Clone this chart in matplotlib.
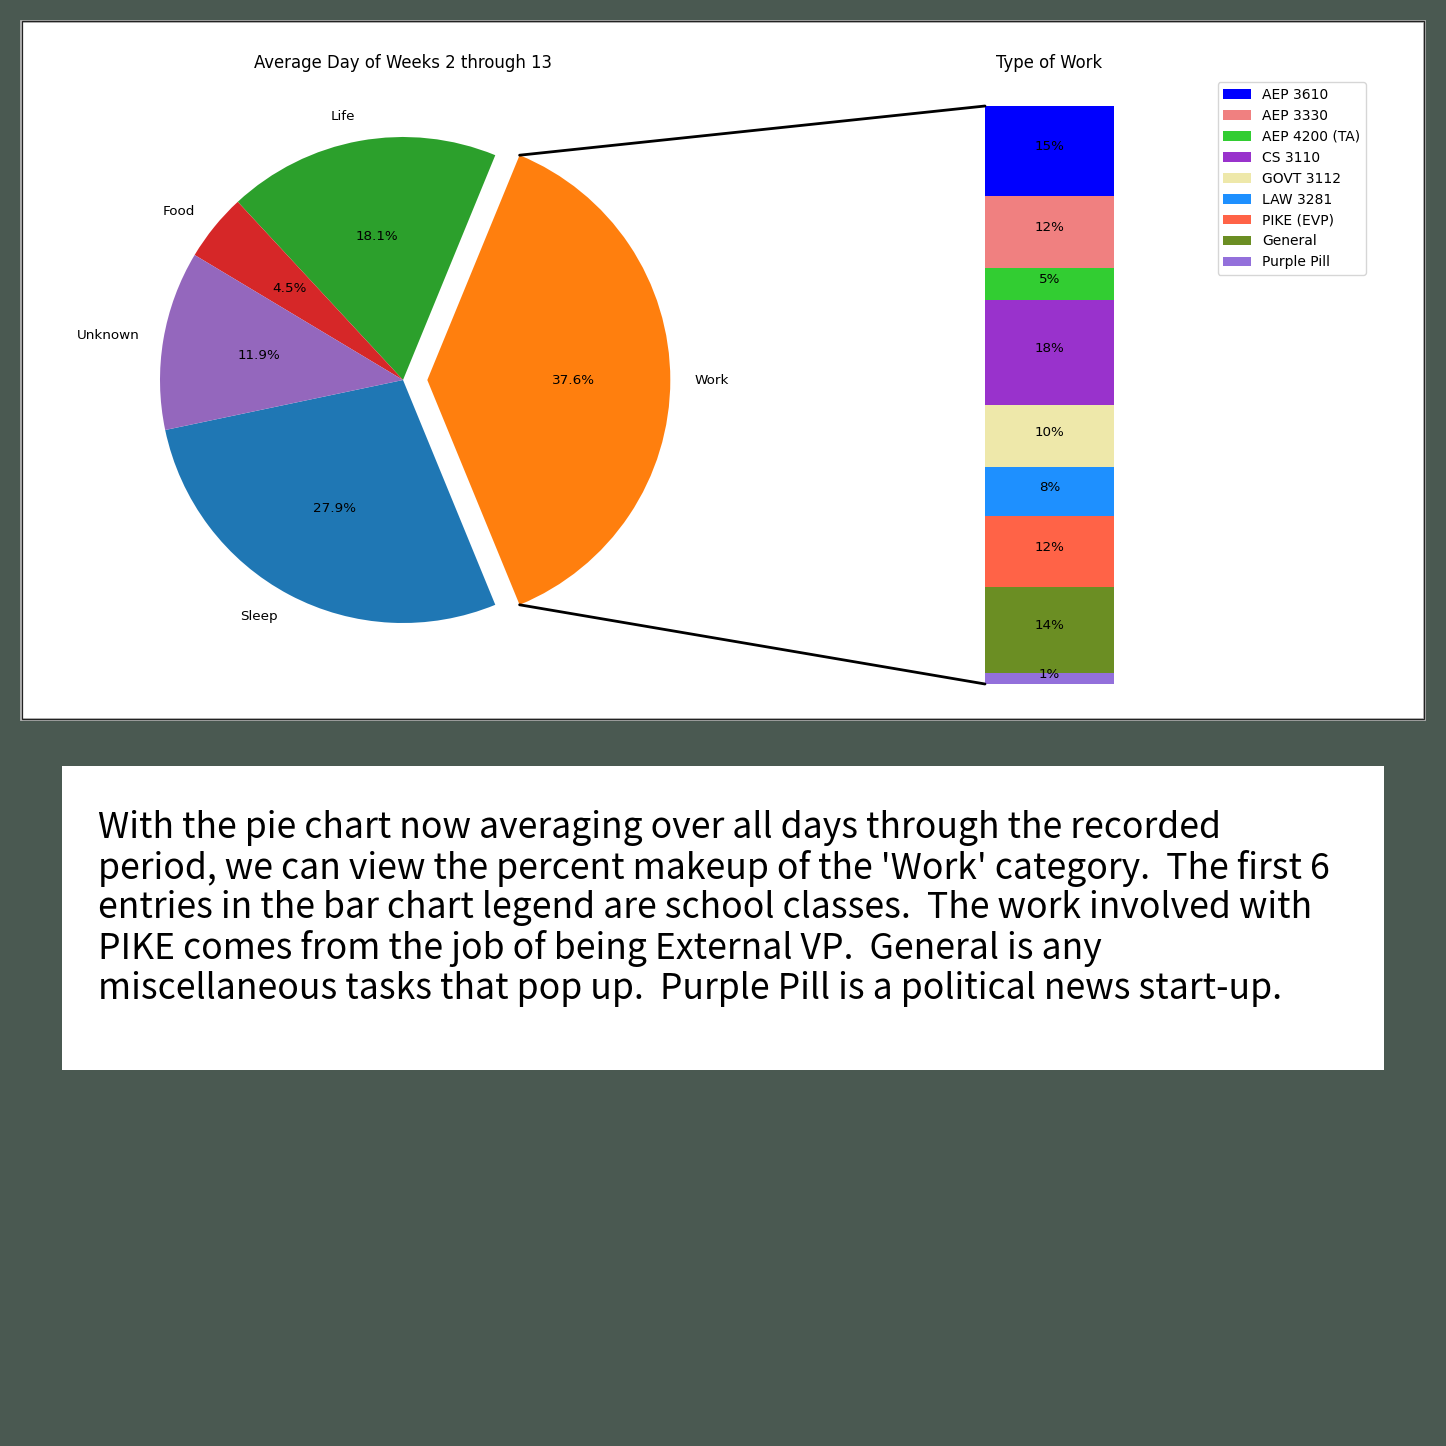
import matplotlib
matplotlib.use("Agg")
import matplotlib.pyplot as plt
from matplotlib.patches import ConnectionPatch, Rectangle
import numpy as np

# pie data (order matters for the wedge layout)
day_labels = ["Sleep", "Work", "Life", "Food", "Unknown"]
day_ratios = [27.9, 37.6, 18.1, 4.5, 11.9]
day_colors = ["C0", "C1", "C2", "C3", "C4"]
day_explode = [0, 0.1, 0, 0, 0]

# breakdown of the 'Work' slice, top to bottom
work_labels = ["AEP 3610", "AEP 3330", "AEP 4200 (TA)", "CS 3110", "GOVT 3112",
               "LAW 3281", "PIKE (EVP)", "General", "Purple Pill"]
work_ratios = [0.156, 0.124, 0.055, 0.183, 0.107, 0.084, 0.123, 0.149, 0.019]
work_colors = ["blue", "lightcoral", "limegreen", "darkorchid", "palegoldenrod",
               "dodgerblue", "tomato", "olivedrab", "mediumpurple"]

caption = ("With the pie chart now averaging over all days through the recorded\n"
           "period, we can view the percent makeup of the 'Work' category.  The first 6\n"
           "entries in the bar chart legend are school classes.  The work involved with\n"
           "PIKE comes from the job of being External VP.  General is any\n"
           "miscellaneous tasks that pop up.  Purple Pill is a political news start-up.")

W = 1446
fig = plt.figure(figsize=(W / 100, W / 100), dpi=100, facecolor="#4a5951")

def px(x0, y0, w, h):
    # pixel box (top-left origin) -> figure fraction
    return [x0 / W, 1 - (y0 + h) / W, w / W, h / W]

def box(x0, y0, w, h, **kw):
    l, b, ww, hh = px(x0, y0, w, h)
    fig.patches.append(Rectangle((l, b), ww, hh, transform=fig.transFigure, zorder=-5, **kw))

# white chart panel with thin frame
box(21, 21, 1403, 698, facecolor="white", edgecolor="#b8b8b8", lw=2)
box(21.5, 21.5, 1402, 697, facecolor="none", edgecolor="#222222", lw=0.9)
# caption box
box(62, 766, 1322, 304, facecolor="white", edgecolor="none")

fs = 9.7

# pie
ax1 = fig.add_axes(px(403 - 303.75, 380 - 303.75, 607.5, 607.5))
start = -180 * day_ratios[1] / 100 - 360 * day_ratios[0] / 100
wedges, texts, autotexts = ax1.pie(day_ratios, labels=day_labels, colors=day_colors,
                                   explode=day_explode, startangle=start,
                                   autopct="%1.1f%%", textprops={"fontsize": fs})
ax1.set_xlim(-1.25, 1.25)
ax1.set_ylim(-1.25, 1.25)
ax1.set_title("Average Day of Weeks 2 through 13", fontsize=11.9)

# stacked bar
ax2 = fig.add_axes(px(727, 76, 645, 608))
bw = 0.2
bottom = 1
for h, lab, col in zip(work_ratios, work_labels, work_colors):
    bottom -= h
    bc = ax2.bar(0, h, bw, bottom=bottom, color=col, label=lab)
    ax2.bar_label(bc, labels=["%d%%" % int(h * 100)], label_type="center",
                  padding=3, fontsize=fs)
ax2.set_xlim(-0.5, 0.5)
ax2.set_ylim(0, 608 / 578)
ax2.axis("off")
ax2.set_title("Type of Work", fontsize=11.9)
ax2.legend(loc="upper right", fontsize=10, borderaxespad=0.45)

# connecting lines
theta1, theta2 = wedges[1].theta1, wedges[1].theta2
cx, cy = wedges[1].center
r = wedges[1].r
bar_height = sum(work_ratios)
for theta, yb in [(theta2, 1), (theta1, 1 - bar_height)]:
    x = r * np.cos(np.pi / 180 * theta) + cx
    y = r * np.sin(np.pi / 180 * theta) + cy
    con = ConnectionPatch(xyA=(-bw / 2, yb), coordsA=ax2.transData,
                          xyB=(x, y), coordsB=ax1.transData)
    con.set_color("black")
    con.set_linewidth(2)
    fig.add_artist(con)

fig.text(98 / W, 1 - 810 / W, caption, fontsize=25.6, va="top", ha="left",
         family=["Noto Sans CJK JP", "DejaVu Sans"], linespacing=1.13)

fig.savefig("out.png", dpi=100, facecolor=fig.get_facecolor())
